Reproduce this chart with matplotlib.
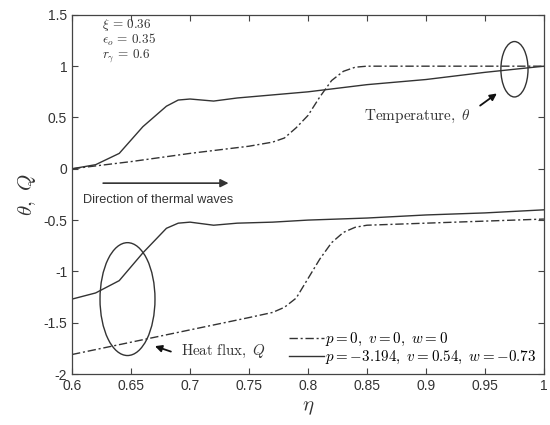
import matplotlib
matplotlib.use("Agg")
import matplotlib.pyplot as plt
from matplotlib.patches import Ellipse

plt.rcParams['mathtext.fontset'] = 'cm'
plt.rcParams['font.family'] = ['Liberation Sans', 'DejaVu Sans']

# Temperature, p = v = w = 0 (dash-dot)
eta_t0 = [0.6, 0.65, 0.7, 0.75, 0.77, 0.78, 0.79, 0.80, 0.81, 0.82, 0.83, 0.84, 0.85, 0.9, 0.95, 1.0]
theta_0 = [0.0, 0.07, 0.15, 0.22, 0.26, 0.30, 0.40, 0.52, 0.70, 0.86, 0.95, 0.99, 1.0, 1.0, 1.0, 1.0]

# Temperature, p = -3.194, v = 0.54, w = -0.73 (solid)
eta_t1 = [0.6, 0.62, 0.64, 0.66, 0.68, 0.69, 0.70, 0.72, 0.74, 0.77, 0.80, 0.85, 0.90, 0.95, 1.0]
theta_1 = [0.0, 0.04, 0.15, 0.41, 0.61, 0.67, 0.68, 0.66, 0.69, 0.72, 0.75, 0.82, 0.87, 0.94, 1.0]

# Heat flux, p = v = w = 0 (dash-dot)
eta_q0 = [0.6, 0.65, 0.7, 0.75, 0.77, 0.78, 0.79, 0.80, 0.81, 0.82, 0.83, 0.84, 0.85, 0.9, 0.95, 1.0]
q_0 = [-1.81, -1.69, -1.57, -1.45, -1.40, -1.35, -1.26, -1.07, -0.88, -0.72, -0.62, -0.57, -0.55, -0.53, -0.51, -0.49]

# Heat flux, non-zero p, v, w (solid)
eta_q1 = [0.6, 0.62, 0.64, 0.66, 0.68, 0.69, 0.70, 0.72, 0.74, 0.77, 0.80, 0.85, 0.90, 0.95, 1.0]
q_1 = [-1.27, -1.21, -1.09, -0.82, -0.58, -0.53, -0.52, -0.55, -0.53, -0.52, -0.50, -0.48, -0.45, -0.43, -0.40]

xticks = [0.6, 0.65, 0.7, 0.75, 0.8, 0.85, 0.9, 0.95, 1.0]
xtick_labels = ['0.6', '0.65', '0.7', '0.75', '0.8', '0.85', '0.9', '0.95', '1']
yticks = [-2, -1.5, -1, -0.5, 0, 0.5, 1, 1.5]
ytick_labels = ['-2', '-1.5', '-1', '-0.5', '0', '0.5', '1', '1.5']

lc = '#333333'
dd = (6, 2, 1.5, 2)

fig = plt.figure(figsize=(5.5, 4.25), dpi=100)
ax = fig.add_axes([0.131, 0.12, 0.858, 0.845])

l0, = ax.plot(eta_t0, theta_0, color=lc, lw=1.0, dashes=dd)
l1, = ax.plot(eta_t1, theta_1, color=lc, lw=1.0)
ax.plot(eta_q0, q_0, color=lc, lw=1.0, dashes=dd)
ax.plot(eta_q1, q_1, color=lc, lw=1.0)

ax.set_xlim(0.6, 1.0)
ax.set_ylim(-2, 1.5)
ax.set_xticks(xticks)
ax.set_xticklabels(xtick_labels)
ax.set_yticks(yticks)
ax.set_yticklabels(ytick_labels)
ax.tick_params(direction='in', top=True, right=True, labelsize=10, length=4, colors='#444444', labelcolor='#333333')
for s in ax.spines.values():
    s.set_color('#444444')
    s.set_linewidth(0.9)

ax.set_xlabel(r'$\eta$', fontsize=15, color='#333333')
ax.set_ylabel(r'$\theta,\ Q$', fontsize=15, color='#333333')

# parameters
ax.text(0.625, 1.40, r'$\xi\,=\,0.36$', fontsize=9.5, va='center', color='#333333')
ax.text(0.625, 1.255, r'$\epsilon_o\,=\,0.35$', fontsize=9.5, va='center', color='#333333')
ax.text(0.625, 1.095, r'$r_\gamma\,=\,0.6$', fontsize=9.5, va='center', color='#333333')

# direction arrow
ax.annotate('', xy=(0.735, -0.14), xytext=(0.624, -0.14),
            arrowprops=dict(arrowstyle='-|>', color=lc, lw=1.2, mutation_scale=12))
ax.text(0.609, -0.30, 'Direction of thermal waves', fontsize=9.2, va='center', color='#333333')

# temperature annotation
ax.add_patch(Ellipse((0.975, 0.97), 0.023, 0.54, fill=False, ec=lc, lw=1.0))
ax.annotate('', xy=(0.962, 0.75), xytext=(0.944, 0.60),
            arrowprops=dict(arrowstyle='-|>', color='#111111', lw=1.3, mutation_scale=10))
ax.text(0.893, 0.51, r'$\mathrm{Temperature,}\ \theta$', fontsize=11, ha='center', va='center', color='#333333')

# heat flux annotation
ax.add_patch(Ellipse((0.647, -1.27), 0.0466, 1.10, fill=False, ec=lc, lw=1.0))
ax.annotate('', xy=(0.668, -1.72), xytext=(0.686, -1.79),
            arrowprops=dict(arrowstyle='-|>', color='#111111', lw=1.3, mutation_scale=10))
ax.text(0.692, -1.78, r'$\mathrm{Heat\ flux,}\ Q$', fontsize=10.8, ha='left', va='center', color='#333333')

ax.legend([l0, l1],
          [r'$p = 0,\ v = 0,\ w = 0$', r'$p = -3.194,\ v = 0.54,\ w = -0.73$'],
          loc='lower right', frameon=False, fontsize=10.8, handlelength=2.3,
          handletextpad=0.1, borderaxespad=0.2, borderpad=0.3, labelspacing=0.1)

fig.savefig('out.png', dpi=100)
